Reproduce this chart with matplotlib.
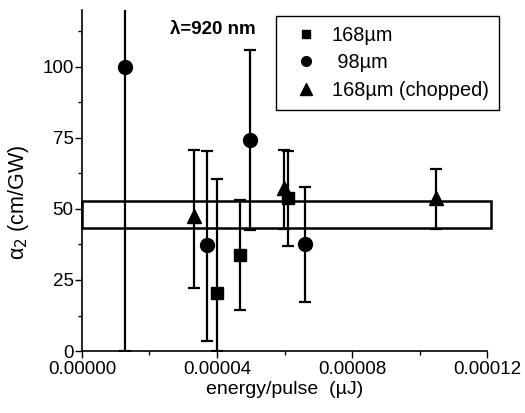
import matplotlib
matplotlib.use('Agg')
import matplotlib.pyplot as plt
import matplotlib.patches as mpatches
from matplotlib.lines import Line2D
from matplotlib.ticker import MultipleLocator, FormatStrFormatter

plt.rcParams.update({
    'font.family': ['Liberation Sans', 'DejaVu Sans'],
    'font.size': 13.5,
})

# ── data ────────────────────────────────────────────────────────────────────
# 168 um (squares)
SQ_X   = [3.99e-5, 4.68e-5, 6.11e-5]
SQ_Y   = [20.4, 33.7, 53.9]
SQ_LO  = [0.0, 14.5, 37.1]
SQ_HI  = [60.4, 53.0, 70.5]

# 98 um (circles)
CI_X   = [1.27e-5, 3.69e-5, 4.98e-5, 6.61e-5]
CI_Y   = [100.0, 37.2, 74.2, 37.7]
CI_LO  = [0.0, 3.6, 42.5, 17.1]
CI_HI  = [140.0, 70.4, 105.8, 57.8]

# 168 um chopped (triangles)
TR_X   = [3.32e-5, 5.98e-5, 1.049e-4]
TR_Y   = [47.5, 57.5, 54.0]
TR_LO  = [22.1, 43.0, 43.0]
TR_HI  = [70.7, 70.7, 64.0]

# average band
BAND_X = [0.0, 1.211e-4]
BAND_Y = [43.4, 52.8]

LABELS = ['168\u00b5m', ' 98\u00b5m', '168\u00b5m (chopped)']

fig = plt.figure(figsize=(5.25, 4.13), dpi=100)
ax = fig.add_axes([0.156, 0.150, 0.772, 0.826])


def series(x, y, lo, hi, marker, ms, cap=4.5, lw=1.6):
    yerr = [[yy - l for yy, l in zip(y, lo)], [h - yy for yy, h in zip(y, hi)]]
    ax.errorbar(x, y, yerr=yerr, fmt=marker, ms=ms, color='black',
                ecolor='black', elinewidth=lw, capsize=cap, capthick=lw,
                zorder=3)


series(SQ_X, SQ_Y, SQ_LO, SQ_HI, 's', 8.5)
series(CI_X, CI_Y, CI_LO, CI_HI, 'o', 10)
series(TR_X, TR_Y, TR_LO, TR_HI, '^', 10.5)

rect = mpatches.Rectangle((BAND_X[0], BAND_Y[0]), BAND_X[1] - BAND_X[0],
                          BAND_Y[1] - BAND_Y[0], facecolor='none',
                          edgecolor='black', lw=1.8, clip_on=False, zorder=2)
ax.add_patch(rect)

ax.set_xlim(0, 0.00012)
ax.set_ylim(0, 120)
ax.xaxis.set_major_locator(MultipleLocator(0.00004))
ax.xaxis.set_minor_locator(MultipleLocator(0.00002))
ax.yaxis.set_major_locator(MultipleLocator(25))
ax.yaxis.set_minor_locator(MultipleLocator(12.5))
ax.xaxis.set_major_formatter(FormatStrFormatter('%.5f'))

for side in ('top', 'right'):
    ax.spines[side].set_visible(False)
for side in ('left', 'bottom'):
    ax.spines[side].set_linewidth(1.2)
ax.tick_params(which='major', direction='out', length=5, width=1.0,
               labelsize=13.5, pad=1)
ax.tick_params(axis='x', which='major', pad=2.5)
ax.tick_params(which='minor', direction='out', length=3, width=1.0)

ax.set_xlabel('energy/pulse  (\u00b5J)', fontsize=14, labelpad=2)
ax.set_ylabel('\u03b1$_2$ (cm/GW)', fontsize=15.5)
ax.yaxis.set_label_coords(-0.125, 0.437)

ax.text(2.6e-5, 113, '\u03bb=920 nm', fontsize=13.5, fontweight='bold',
        ha='left', va='center')

handles = [
    Line2D([], [], ls='none', marker='s', ms=6, color='black'),
    Line2D([], [], ls='none', marker='o', ms=7, color='black'),
    Line2D([], [], ls='none', marker='^', ms=8, color='black'),
]
leg = ax.legend(handles, LABELS, loc='upper left',
                bbox_to_anchor=(0.479, 0.982), fontsize=14.3,
                frameon=True, fancybox=False, borderpad=0.5,
                handletextpad=0.3, labelspacing=0.42, handlelength=2.0,
                borderaxespad=0)
leg.get_frame().set_edgecolor('black')
leg.get_frame().set_linewidth(1.0)
leg.get_frame().set_alpha(1)

fig.savefig('out.png', dpi=100)
